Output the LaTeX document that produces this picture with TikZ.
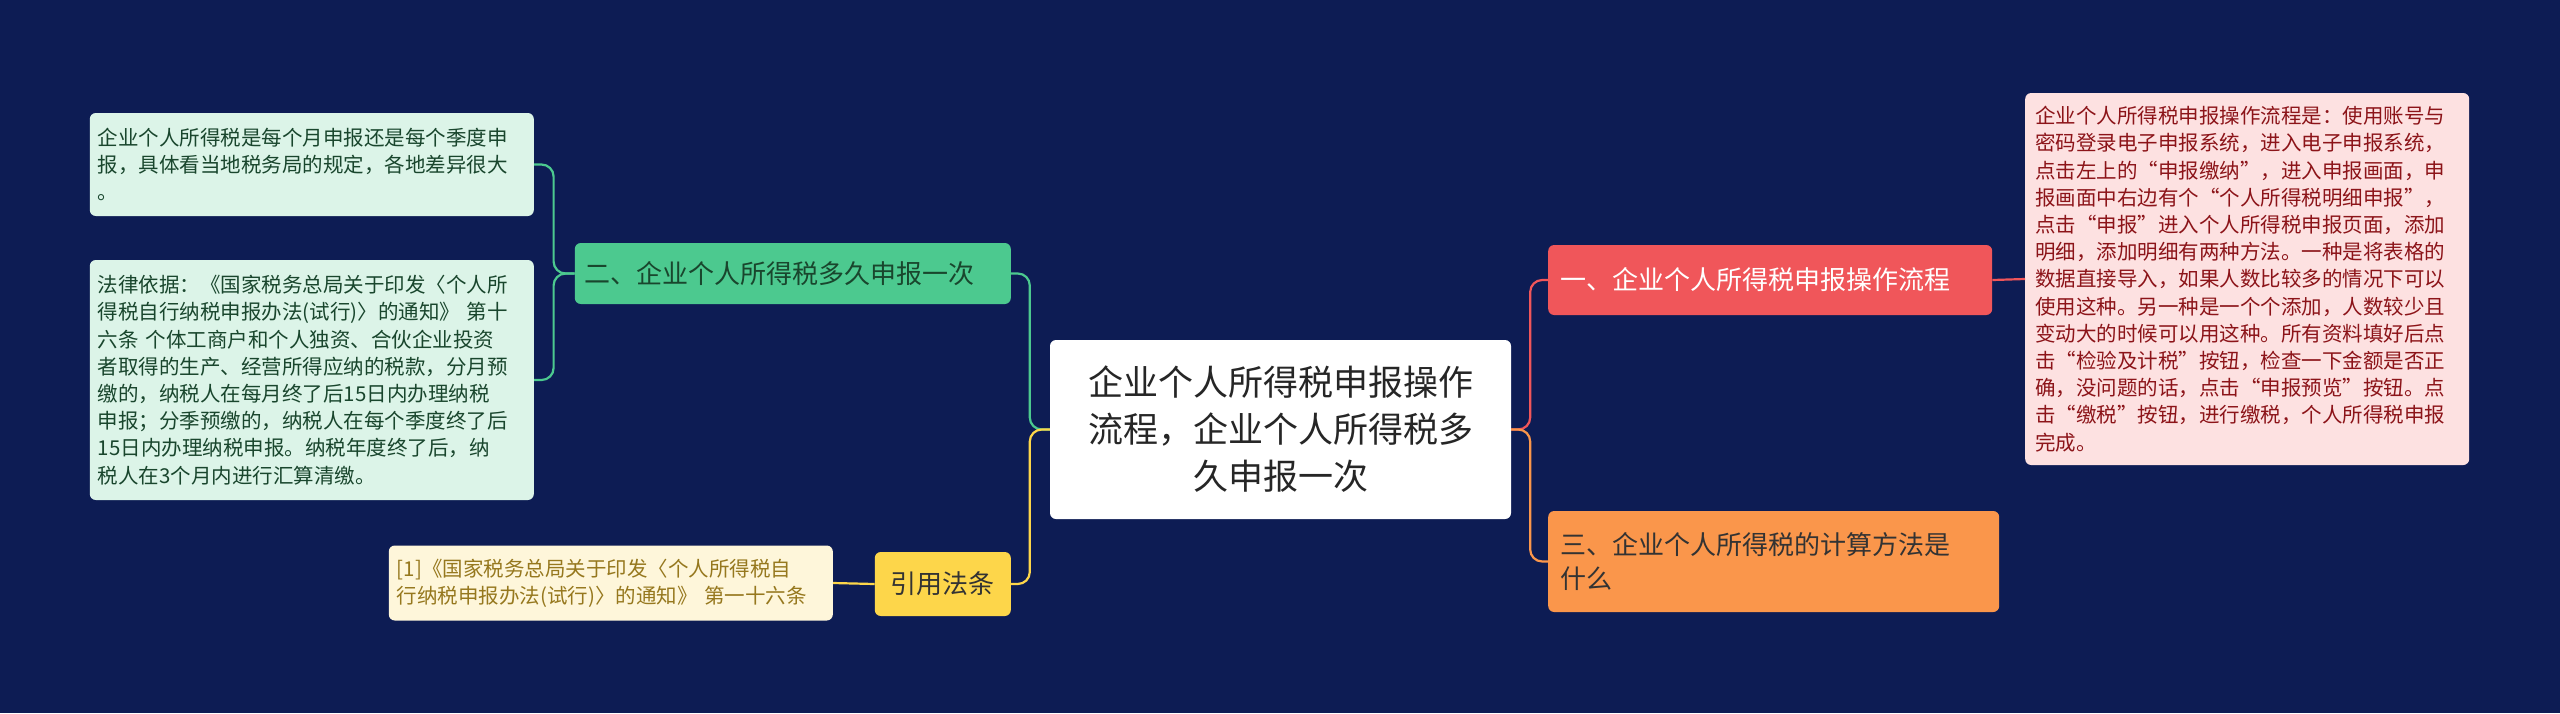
\documentclass[tikz,border=0pt]{standalone}
\usepackage{fontspec}
\setmainfont{Noto Sans CJK SC}
\definecolor{MapBack}{RGB}{13,28,84}
\definecolor{RedMain}{RGB}{240,86,90}
\definecolor{RedLeaf}{RGB}{253,225,225}
\definecolor{RedText}{RGB}{140,20,25}
\definecolor{OrangeMain}{RGB}{250,150,75}
\definecolor{GreenMain}{RGB}{76,201,143}
\definecolor{GreenLeaf}{RGB}{220,244,232}
\definecolor{GreenText}{RGB}{25,70,45}
\definecolor{YellowMain}{RGB}{253,214,74}
\definecolor{YellowLeaf}{RGB}{254,246,218}
\definecolor{YellowText}{RGB}{150,120,30}
\tikzset{
  box/.style={rounded corners=6pt, inner sep=0pt, align=left, anchor=north west},
  leaftext/.style={font=\fontsize{20.5}{27.2}\selectfont},
  maintext/.style={font=\fontsize{26}{34}\selectfont},
  link/.style={line width=2.2pt, rounded corners=12pt}
}
\begin{document}
\begin{tikzpicture}[x=1pt, y=-1pt]
\fill[MapBack] (0,0) rectangle (2560,713);
\useasboundingbox (0,0) rectangle (2560,713);

% centre
\node[box, fill=white, align=center, anchor=center, minimum width=461pt, minimum height=179pt,
  font=\fontsize{35}{47}\selectfont, text=black!85] (root) at (1280.5,429.5)
  {企业个人所得税申报操作\\流程，企业个人所得税多\\久申报一次};

% right side
\node[box, fill=RedMain, text=white, maintext, minimum width=444pt, minimum height=70pt,
  anchor=west, text width=420pt, inner xsep=12pt] (flow) at (1548,280) {一、企业个人所得税申报操作流程};
\node[box, fill=OrangeMain, text=black!80, maintext, minimum width=451pt, minimum height=101pt,
  anchor=west, text width=427pt, inner xsep=12pt] (calc) at (1548,561.5) {三、企业个人所得税的计算方法是\\什么};
\node[box, fill=RedLeaf, text=RedText, leaftext, minimum width=444pt, minimum height=372pt,
  anchor=west, text width=424pt, inner xsep=10pt] (flowleaf) at (2025,279)
  {企业个人所得税申报操作流程是：使用账号与\\密码登录电子申报系统，进入电子申报系统，\\点击左上的“申报缴纳”，进入申报画面，申\\报画面中右边有个“个人所得税明细申报”，\\点击“申报”进入个人所得税申报页面，添加\\明细，添加明细有两种方法。一种是将表格的\\数据直接导入，如果人数比较多的情况下可以\\使用这种。另一种是一个个添加，人数较少且\\变动大的时候可以用这种。所有资料填好后点\\击“检验及计税”按钮，检查一下金额是否正\\确，没问题的话，点击“申报预览”按钮。点\\击“缴税”按钮，进行缴税，个人所得税申报\\完成。};

% left side
\node[box, fill=GreenMain, text=GreenText, maintext, minimum width=436pt, minimum height=61pt,
  anchor=east, text width=416pt, inner xsep=10pt] (often) at (1011,273.5) {二、企业个人所得税多久申报一次};
\node[box, fill=GreenLeaf, text=GreenText, leaftext, minimum width=444pt, minimum height=103pt,
  anchor=east, text width=428pt, inner xsep=8pt] (monthly) at (534,164.5)
  {企业个人所得税是每个月申报还是每个季度申\\报，具体看当地税务局的规定，各地差异很大\\。};
\node[box, fill=GreenLeaf, text=GreenText, leaftext, minimum width=444pt, minimum height=240pt,
  anchor=east, text width=428pt, inner xsep=8pt] (basis) at (534,380)
  {法律依据：《国家税务总局关于印发〈个人所\\得税自行纳税申报办法(试行)〉的通知》 第十\\六条 个体工商户和个人独资、合伙企业投资\\者取得的生产、经营所得应纳的税款，分月预\\缴的，纳税人在每月终了后15日内办理纳税\\申报；分季预缴的，纳税人在每个季度终了后\\15日内办理纳税申报。纳税年度终了后，纳\\税人在3个月内进行汇算清缴。};
\node[box, fill=YellowMain, text=black!80, maintext, minimum width=136pt, minimum height=64pt,
  anchor=east, align=center] (cite) at (1011,584) {引用法条};
\node[box, fill=YellowLeaf, text=YellowText, leaftext, minimum width=444pt, minimum height=75pt,
  anchor=east, text width=428pt, inner xsep=8pt] (citeleaf) at (833,583)
  {[1]《国家税务总局关于印发〈个人所得税自\\行纳税申报办法(试行)〉的通知》 第一十六条};

% connectors
\draw[link, RedMain] (root.east) -- ++(19,0) |- (flow.west);
\draw[link, OrangeMain] (root.east) -- ++(19,0) |- (calc.west);
\draw[link, RedMain] (flow.east) -- (flowleaf.west);
\draw[link, GreenMain] (root.west) -- ++(-20,0) |- (often.east);
\draw[link, YellowMain] (root.west) -- ++(-20,0) |- (cite.east);
\draw[link, GreenMain] (often.west) -- ++(-21,0) |- (monthly.east);
\draw[link, GreenMain] (often.west) -- ++(-21,0) |- (basis.east);
\draw[link, YellowMain] (cite.west) -- (citeleaf.east);
\end{tikzpicture}
\end{document}
